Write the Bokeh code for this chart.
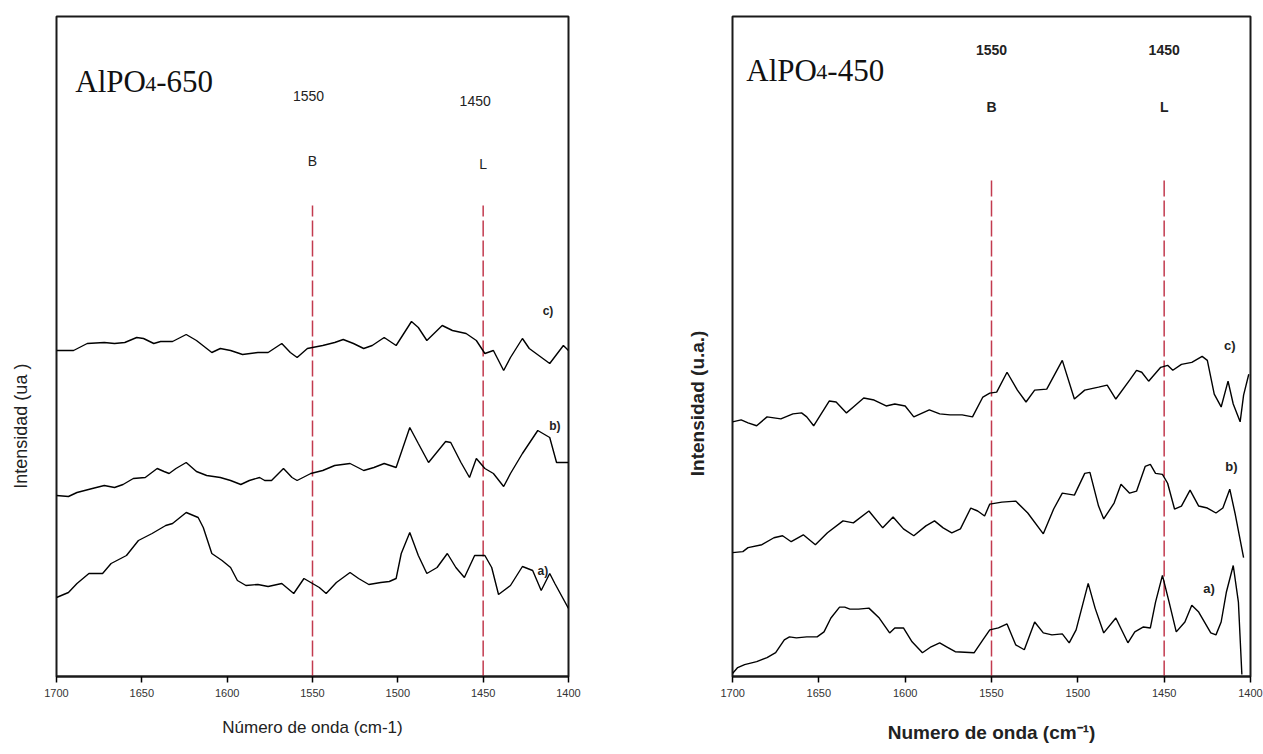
import math
from bokeh.plotting import figure
from bokeh.models import Range1d, Label, FixedTicker
from bokeh.layouts import row
from bokeh.embed import file_html
from bokeh.resources import INLINE

# ---------------- data: left panel (AlPO4-650) ----------------
ticks = [1700, 1650, 1600, 1550, 1500, 1450, 1400]
band_pos = [1550, 1450]
band_names = ["B", "L"]

wn_L_c = [1700,1690,1682,1672,1666,1660,1653,1649,1643,1639,1632,1624,1618,1609,1604,1598,1591,1582,1576,1568,
          1563,1559,1553,1544,1537,1532,1526,1520,1515,1508,1501,1492,1488,1483,1474,1468,1460,1454,1449,1444,
          1438,1434,1427,1423,1411,1403,1400]
int_L_c = [3.26,3.26,3.33,3.34,3.33,3.34,3.39,3.38,3.33,3.35,3.35,3.42,3.36,3.24,3.28,3.26,3.22,3.24,3.24,3.33,
           3.24,3.19,3.28,3.31,3.34,3.37,3.33,3.28,3.31,3.39,3.31,3.55,3.49,3.36,3.51,3.46,3.43,3.36,3.23,3.26,
           3.06,3.19,3.38,3.28,3.13,3.31,3.26]

wn_L_b = [1700,1693,1688,1679,1672,1666,1661,1655,1648,1641,1637,1634,1630,1624,1618,1612,1604,1598,1592,1587,
          1581,1578,1574,1567,1562,1559,1551,1544,1537,1528,1520,1514,1508,1501,1493,1488,1482,1472,1469,1463,
          1458,1454,1449,1444,1438,1434,1427,1418,1411,1407,1400]
int_L_b = [1.81,1.80,1.84,1.88,1.91,1.89,1.92,1.98,1.99,2.08,2.05,2.03,2.08,2.14,2.05,2.01,1.99,1.96,1.92,1.96,
           1.99,1.96,1.96,2.08,1.99,1.96,2.03,2.06,2.11,2.13,2.06,2.09,2.13,2.09,2.49,2.33,2.14,2.35,2.34,2.14,
           1.99,2.18,2.08,2.03,1.90,2.03,2.23,2.46,2.39,2.14,2.14]

wn_L_a = [1700,1693,1688,1681,1673,1668,1659,1652,1644,1636,1632,1624,1617,1614,1609,1603,1598,1594,1589,1582,
          1576,1568,1561,1555,1551,1546,1542,1536,1528,1523,1517,1510,1505,1501,1498,1493,1488,1483,1477,1471,
          1466,1461,1455,1449,1445,1441,1434,1427,1421,1416,1411,1408,1400]
int_L_a = [0.79,0.84,0.93,1.03,1.03,1.13,1.21,1.36,1.43,1.51,1.53,1.64,1.59,1.49,1.23,1.16,1.09,0.96,0.91,0.92,
           0.90,0.93,0.83,0.98,0.94,0.89,0.83,0.94,1.04,0.98,0.92,0.94,0.95,0.98,1.23,1.44,1.21,1.03,1.09,1.23,
           1.09,0.99,1.21,1.21,1.09,0.82,0.91,1.10,1.06,0.86,1.03,0.93,0.68]

# ---------------- data: right panel (AlPO4-450) ----------------
wn_R_c = [1700,1695,1691,1686,1680,1672,1665,1660,1657,1653,1644,1640,1634,1630,1624,1618,1611,1606,1600,1595,
          1586,1580,1574,1567,1561,1555,1551,1547,1541,1535,1530,1525,1518,1509,1502,1496,1488,1483,1478,1470,
          1466,1463,1459,1452,1448,1445,1440,1434,1428,1425,1421,1417,1413,1410,1406,1404,1401]
int_R_c = [2.57,2.59,2.56,2.53,2.62,2.60,2.65,2.66,2.62,2.53,2.78,2.77,2.66,2.72,2.81,2.79,2.73,2.75,2.73,2.62,
           2.69,2.65,2.64,2.64,2.62,2.82,2.86,2.87,3.07,2.89,2.77,2.89,2.90,3.19,2.80,2.89,2.92,2.94,2.80,2.99,
           3.09,3.07,2.98,3.12,3.14,3.09,3.15,3.17,3.23,3.19,2.85,2.72,2.98,2.75,2.57,2.84,3.05]

wn_R_b = [1700,1694,1691,1683,1676,1671,1666,1659,1652,1645,1636,1630,1621,1613,1607,1601,1595,1588,1583,1578,
          1573,1568,1562,1558,1554,1551,1544,1536,1529,1520,1514,1509,1502,1496,1493,1488,1485,1479,1475,1470,
          1466,1461,1458,1455,1451,1448,1444,1440,1435,1430,1425,1420,1416,1412,1409,1404]
int_R_b = [1.25,1.26,1.30,1.33,1.40,1.42,1.36,1.43,1.33,1.45,1.57,1.55,1.67,1.50,1.61,1.49,1.42,1.52,1.57,1.50,
           1.45,1.49,1.70,1.67,1.62,1.74,1.76,1.77,1.65,1.44,1.69,1.85,1.83,2.05,2.06,1.72,1.59,1.75,1.94,1.85,
           1.87,2.12,2.14,2.05,2.04,1.95,1.69,1.72,1.88,1.72,1.70,1.65,1.70,1.89,1.65,1.20]

wn_R_a = [1700,1697,1693,1686,1680,1675,1670,1667,1663,1657,1651,1647,1643,1638,1635,1632,1627,1621,1615,1609,
          1606,1601,1596,1590,1585,1580,1576,1571,1560,1555,1551,1546,1541,1536,1531,1525,1520,1515,1509,1505,
          1501,1494,1490,1485,1478,1471,1467,1462,1458,1455,1451,1447,1443,1438,1434,1430,1423,1420,1417,1414,
          1410,1407,1405]
int_R_a = [0.03,0.09,0.12,0.15,0.19,0.24,0.37,0.40,0.39,0.40,0.40,0.45,0.59,0.70,0.70,0.68,0.68,0.69,0.59,0.44,
           0.49,0.49,0.35,0.24,0.30,0.34,0.30,0.25,0.24,0.37,0.47,0.49,0.53,0.32,0.27,0.55,0.44,0.42,0.43,0.34,
           0.47,0.94,0.69,0.44,0.59,0.34,0.45,0.50,0.49,0.75,1.02,0.74,0.45,0.55,0.72,0.65,0.44,0.42,0.55,0.85,
           1.12,0.75,0.02]

series_labels = ["a)", "b)", "c)"]

SANS = "Liberation Sans"
SERIF = "Liberation Serif"
DASH_COLOR = "#c23a4e"
H = 754


def make_panel(width, border_left, border_right, border_bottom, ytop, dash_top):
    p = figure(width=width, height=H, output_backend="svg", toolbar_location=None,
               x_range=Range1d(1700, 1400), y_range=Range1d(0, ytop),
               min_border_left=border_left, min_border_right=border_right,
               min_border_top=16, min_border_bottom=border_bottom)
    p.title.visible = False
    p.grid.visible = False
    p.yaxis.visible = False
    p.outline_line_color = "#1a1a1a"
    p.outline_line_width = 2
    p.outline_line_alpha = 1
    ax = p.xaxis[0]
    ax.ticker = FixedTicker(ticks=ticks)
    ax.minor_tick_line_color = None
    ax.major_tick_in = 0
    ax.major_tick_out = 6
    ax.major_tick_line_width = 1.5
    ax.axis_line_width = 2
    ax.axis_line_color = "#1a1a1a"
    ax.major_label_text_font = SANS
    ax.major_label_text_font_size = "11px"
    ax.major_label_text_color = "#333333"
    ax.major_label_standoff = 6
    p.segment(x0=band_pos, x1=band_pos, y0=[0, 0], y1=[dash_top, dash_top],
              line_color=DASH_COLOR, line_width=1.5, line_dash="16 4")
    return p


def make_ylabel_strip(width, text, cx, cy, size, style):
    # thin blank figure that only holds the rotated y-axis title (pixel-like ranges)
    s = figure(width=width, height=H, output_backend="svg", toolbar_location=None,
               x_range=Range1d(0, width), y_range=Range1d(0, H), min_border=0)
    s.title.visible = False
    s.axis.visible = False
    s.grid.visible = False
    s.outline_line_color = None
    s.add_layout(Label(x=cx, y=H - cy, text=text, angle=math.pi / 2, text_font=SANS,
                       text_font_size=size, text_font_style=style, text_align="center",
                       text_baseline="middle", text_color="#222222"))
    return s


def add_title(p, x, y, tail):
    p.add_layout(Label(x=x, y=y, text="AlPO", text_font=SERIF, text_font_size="31px",
                       text_baseline="alphabetic", text_color="#111111"))
    p.add_layout(Label(x=x, y=y, x_offset=70, y_offset=-2, text="4", text_font=SERIF,
                       text_font_size="22px", text_baseline="alphabetic", text_color="#111111"))
    p.add_layout(Label(x=x, y=y, x_offset=81, text=tail, text_font=SERIF, text_font_size="31px",
                       text_baseline="alphabetic", text_color="#111111"))


# ---------------- left panel ----------------
yL = make_ylabel_strip(40, "Intensidad (ua )", 20, 468, "18px", "normal")
pL = make_panel(560, 16, 32, 78, 6.6, 4.71)
for wn, it in [(wn_L_a, int_L_a), (wn_L_b, int_L_b), (wn_L_c, int_L_c)]:
    pL.line(wn, it, line_color="black", line_width=1.4)
pL.xaxis.axis_label = "Número de onda (cm-1)"
pL.xaxis.axis_label_text_font = SANS
pL.xaxis.axis_label_text_font_style = "normal"
pL.xaxis.axis_label_text_font_size = "17px"
pL.xaxis.axis_label_text_color = "#222222"
pL.xaxis.axis_label_standoff = 18

for lab, (lx, ly) in zip(series_labels, [(1415, 1.06), (1408, 2.51), (1412, 3.66)]):
    pL.add_layout(Label(x=lx, y=ly, text=lab, text_font=SANS, text_font_size="12px",
                        text_font_style="bold", text_align="center", text_baseline="middle",
                        text_color="#222222"))
for bp, bn, num_y, let_y, off in zip(band_pos, band_names, [5.81, 5.76], [5.16, 5.13], [-4, -8]):
    pL.add_layout(Label(x=bp, y=num_y, x_offset=off, text=str(bp), text_font=SANS, text_font_size="14px",
                        text_align="center", text_baseline="middle", text_color="#222222"))
    pL.add_layout(Label(x=bp, y=let_y, text=bn, text_font=SANS, text_font_size="14px",
                        text_align="center", text_baseline="middle", text_color="#222222"))
add_title(pL, 1689, 5.95, "-650")

# ---------------- right panel ----------------
yR = make_ylabel_strip(120, "Intensidad (u.a.)", 97, 442, "19px", "bold")
pR = make_panel(543, 12, 13, 72, 6.66, 5.02)
for wn, it in [(wn_R_a, int_R_a), (wn_R_b, int_R_b), (wn_R_c, int_R_c)]:
    pR.line(wn, it, line_color="black", line_width=1.4)
pR.xaxis.axis_label = "Numero de onda (cm⁻¹)"
pR.xaxis.axis_label_text_font = SANS
pR.xaxis.axis_label_text_font_style = "bold"
pR.xaxis.axis_label_text_font_size = "19px"
pR.xaxis.axis_label_text_color = "#222222"
pR.xaxis.axis_label_standoff = 22

for lab, (lx, ly) in zip(series_labels, [(1424, 0.89), (1411, 2.12), (1412, 3.34)]):
    pR.add_layout(Label(x=lx, y=ly, text=lab, text_font=SANS, text_font_size="13px",
                        text_font_style="bold", text_align="center", text_baseline="middle",
                        text_color="#222222"))
for bp, bn in zip(band_pos, band_names):
    pR.add_layout(Label(x=bp, y=6.32, text=str(bp), text_font=SANS, text_font_size="14px",
                        text_font_style="bold", text_align="center", text_baseline="middle",
                        text_color="#222222"))
    pR.add_layout(Label(x=bp, y=5.75, text=bn, text_font=SANS, text_font_size="14px",
                        text_font_style="bold", text_align="center", text_baseline="middle",
                        text_color="#222222"))
add_title(pR, 1692, 6.12, "-450")

layout = row(yL, pL, yR, pR, spacing=0)
open("out.html", "w").write(file_html(layout, INLINE))
